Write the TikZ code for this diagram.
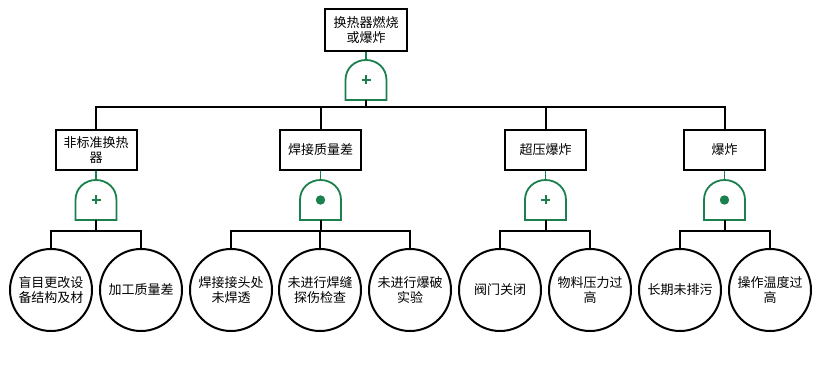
\documentclass[tikz,border=0pt]{standalone}
\usepackage{fontspec}
\setmainfont{Noto Sans CJK SC}
\definecolor{gatecol}{RGB}{27,128,77}
\tikzset{
  box/.style={draw, line width=2pt, minimum width=81pt, minimum height=40pt, align=center, inner sep=2pt, font=\fontsize{13}{14.5}\selectfont},
  ev/.style={draw, circle, line width=2pt, minimum size=82pt, inner sep=0pt, align=center, font=\fontsize{13}{15}\selectfont},
  conn/.style={line width=2pt},
  gconn/.style={draw=gatecol, line width=1.8pt},
  gatebody/.style={draw=gatecol, line width=1.8pt, fill=white},
  orgate/.pic={
    \draw[gatebody] (-20.5,0) -- (-20.5,-20) .. controls (-20.5,-32) and (-11,-40) .. (0,-40) .. controls (11,-40) and (20.5,-32) .. (20.5,-20) -- (20.5,0) -- cycle;
    \draw[gatecol, line width=2pt] (-4.5,-20) -- (4.5,-20) (0,-24.5) -- (0,-15.5);
    \coordinate (-top) at (0,-40);
    \coordinate (-bot) at (0,0);
  },
  andgate/.pic={
    \draw[gatebody] (-20.5,0) -- (-20.5,-20) .. controls (-20.5,-32) and (-11,-40) .. (0,-40) .. controls (11,-40) and (20.5,-32) .. (20.5,-20) -- (20.5,0) -- cycle;
    \fill[gatecol] (0,-20) circle (4.7pt);
    \coordinate (-top) at (0,-40);
    \coordinate (-bot) at (0,0);
  }
}
\begin{document}
\begin{tikzpicture}[x=1pt, y=-1pt]
\useasboundingbox (0,0) rectangle (820,390);
% top
\node[box, minimum width=82pt, minimum height=42pt] (top) at (366,30) {换热器燃烧\\或爆炸};
\pic (g0) at (366,100) {orgate};
% level 2
\node[box] (b1) at (96,150) {非标准换热\\器};
\node[box] (b2) at (320.5,150) {焊接质量差};
\node[box] (b3) at (545.5,150) {超压爆炸};
\node[box] (b4) at (724.5,150) {爆炸};
\pic (g1) at (96,220) {orgate};
\pic (g2) at (320.5,220) {andgate};
\pic (g3) at (545.5,220) {orgate};
\pic (g4) at (724.5,220) {andgate};
% level 3
\node[ev] (e1) at (51,290) {盲目更改设\\备结构及材};
\node[ev] (e2) at (141,290) {加工质量差};
\node[ev] (e3) at (231,290) {焊接接头处\\未焊透};
\node[ev] (e4) at (320,290) {未进行焊缝\\探伤检查};
\node[ev] (e5) at (410,290) {未进行爆破\\实验};
\node[ev] (e6) at (500,290) {阀门关闭};
\node[ev] (e7) at (590,290) {物料压力过\\高};
\node[ev] (e8) at (680,290) {长期未排污};
\node[ev] (e9) at (770,290) {操作温度过\\高};
% green connectors
\draw[gconn] (top.south) -- (g0-top);
\foreach \i in {1,2,3,4}{\draw[gconn] (b\i.south) -- (g\i-top);}
% black connectors
\foreach \b in {b1,b2,b3,b4}{\draw[conn] (g0-bot) -- ++(0,7) -| (\b.north);}
\draw[conn] (g1-bot) -- ++(0,11) -| (e1.north);
\draw[conn] (g1-bot) -- ++(0,11) -| (e2.north);
\draw[conn] (g2-bot) -- ++(0,11) -| (e3.north);
\draw[conn] (g2-bot) -- ++(0,11) -| (e4.north);
\draw[conn] (g2-bot) -- ++(0,11) -| (e5.north);
\draw[conn] (g3-bot) -- ++(0,11) -| (e6.north);
\draw[conn] (g3-bot) -- ++(0,11) -| (e7.north);
\draw[conn] (g4-bot) -- ++(0,11) -| (e8.north);
\draw[conn] (g4-bot) -- ++(0,11) -| (e9.north);
\end{tikzpicture}
\end{document}
